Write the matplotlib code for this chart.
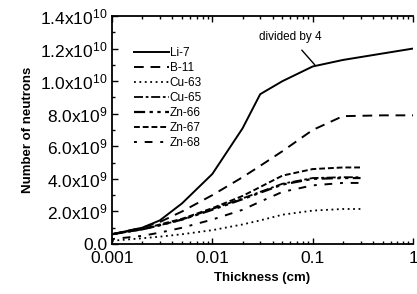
import numpy as np
import matplotlib
matplotlib.use('Agg')
import matplotlib.pyplot as plt

plt.rcParams['font.family'] = ['Liberation Sans', 'DejaVu Sans']
plt.rcParams['mathtext.default'] = 'regular'

# Espesores (cm)
x_long = [0.001, 0.002, 0.003, 0.005, 0.01, 0.02, 0.03, 0.05, 0.1, 0.2, 0.5, 1.0]
x_short = [0.001, 0.002, 0.003, 0.005, 0.01, 0.02, 0.03, 0.05, 0.1, 0.2, 0.3]

# Numero de neutrones (x1e9)
li7 = [0.6, 1.0, 1.45, 2.5, 4.3, 7.1, 9.2, 10.0, 10.9, 11.3, 11.7, 12.0]
b11 = [0.6, 1.0, 1.35, 2.0, 3.0, 4.1, 4.8, 5.7, 7.0, 7.85, 7.9, 7.9]
cu63 = [0.2, 0.35, 0.45, 0.6, 0.85, 1.2, 1.45, 1.8, 2.05, 2.15, 2.15]
cu65 = [0.6, 0.9, 1.15, 1.5, 2.15, 2.8, 3.2, 3.7, 4.05, 4.1, 4.1]
zn66 = [0.6, 0.9, 1.15, 1.5, 2.1, 2.75, 3.15, 3.65, 4.0, 4.05, 4.05]
zn67 = [0.6, 0.9, 1.2, 1.55, 2.2, 2.95, 3.5, 4.2, 4.6, 4.7, 4.7]
zn68 = [0.3, 0.5, 0.7, 1.0, 1.5, 2.1, 2.6, 3.2, 3.6, 3.75, 3.75]

yticks = [0, 2e9, 4e9, 6e9, 8e9, 1e10, 1.2e10, 1.4e10]
yticklabels = ['0.0', '2.0x10$^9$', '4.0x10$^9$', '6.0x10$^9$', '8.0x10$^9$',
               '1.0x10$^{10}$', '1.2x10$^{10}$', '1.4x10$^{10}$']
xticks = [0.001, 0.01, 0.1, 1]
xticklabels = ['0.001', '0.01', '0.1', '1']

fig = plt.figure(figsize=(4.17, 2.94), dpi=100)
ax = fig.add_axes([112/417, 50/294, 301/417, 228/294])

e9 = 1e9
ax.plot(x_long, np.array(li7)*e9, 'k-', lw=1.4, label='Li-7')
ax.plot(x_long, np.array(b11)*e9, 'k', ls=(0, (5, 3.5)), lw=1.4, label='B-11')
ax.plot(x_short, np.array(cu63)*e9, 'k', ls=(0, (1, 2)), lw=1.3, label='Cu-63')
ax.plot(x_short, np.array(cu65)*e9, 'k', ls=(0, (5, 1.5, 1.5, 1.5)), lw=1.3, label='Cu-65')
ax.plot(x_short, np.array(zn66)*e9, 'k', ls=(0, (5, 2, 1.5, 2, 1.5, 2)), lw=1.6, label='Zn-66')
ax.plot(x_short, np.array(zn67)*e9, 'k', ls=(0, (3, 1.5)), lw=1.4, label='Zn-67')
ax.plot(x_short, np.array(zn68)*e9, 'k', ls=(0, (1.5, 4, 4, 4)), lw=1.4, label='Zn-68')

ax.set_xscale('log')
ax.set_xlim(0.001, 1)
ax.set_ylim(0, 1.4e10)
ax.set_xticks(xticks)
ax.set_xticklabels(xticklabels)
ax.set_yticks(yticks)
ax.set_yticklabels(yticklabels)
ax.set_yticks(np.arange(1e9, 1.4e10, 2e9), minor=True)
ax.tick_params(which='both', direction='in', top=True, right=False, labelsize=12.5, width=1)
ax.tick_params(which='major', length=4)
ax.tick_params(which='minor', length=2.5)
ax.tick_params(axis='x', pad=5)
ax.spines['right'].set_visible(False)
for s in ['left', 'bottom', 'top']:
    ax.spines[s].set_linewidth(1.3)

ax.set_xlabel('Thickness (cm)', fontsize=9.5, fontweight='bold', labelpad=4)
ax.set_ylabel('Number of neutrons', fontsize=9.5, fontweight='bold', labelpad=4)

ax.legend(loc='upper left', bbox_to_anchor=(0.055, 0.89), frameon=False, fontsize=8.5,
          handlelength=2.9, handletextpad=0.1, labelspacing=0.25, borderpad=0)

ax.annotate('divided by 4', xy=(0.105, 1.10e10), xytext=(0.06, 1.27e10),
            fontsize=8.5, ha='center', va='center',
            arrowprops=dict(arrowstyle='-', color='k', lw=1, shrinkA=4, shrinkB=0))

fig.savefig('out.png', dpi=100)
